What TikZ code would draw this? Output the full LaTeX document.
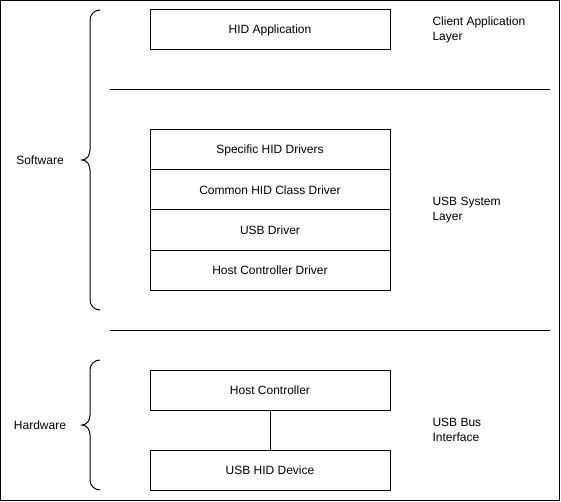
\documentclass[tikz,border=0pt]{standalone}
\usepackage{fontspec}
\setmainfont{Liberation Sans}
\usetikzlibrary{positioning}

\begin{document}
\begin{tikzpicture}[
    x=1pt, y=-1pt,
    font=\fontsize{12}{15}\selectfont,
    every path/.style = {line width=1pt},
    layerbox/.style = {rectangle, draw, minimum width=240pt, minimum height=40pt, inner sep=0pt, outer sep=0pt, anchor=north west},
    sidelabel/.style= {align=left, anchor=west, inner sep=0pt},
    grouplabel/.style= {anchor=center, inner sep=0pt}
]

% --- Rahmen ---
\useasboundingbox (0,0) rectangle (561,502);
\draw (0.5,0.5) rectangle (559.5,500.5);

% --- Client Application Layer ---
\node[layerbox] (app) at (150,10) {HID Application};
\node[sidelabel] (applbl) at (432,30) {Client Application\\Layer};

\coordinate (sepA) at (110,90);
\coordinate (sepAe) at (550,90);
\draw (sepA) -- (sepAe);

% --- USB System Layer ---
\node[layerbox] (spec) at (150,130) {Specific HID Drivers};
\node[layerbox, below=0pt of spec.south west, anchor=north west] (common) {Common HID Class Driver};
\node[layerbox, below=0pt of common.south west, anchor=north west] (usbdrv) {USB Driver};
\node[layerbox, below=0pt of usbdrv.south west, anchor=north west] (hcd) {Host Controller Driver};
\node[sidelabel] (syslbl) at (432,210) {USB System\\Layer};

\coordinate (sepB) at (110,330);
\coordinate (sepBe) at (550,330);
\draw (sepB) -- (sepBe);

% --- USB Bus Interface ---
\node[layerbox] (hc) at (150,370) {Host Controller};
\node[layerbox] (dev) at (150,450) {USB HID Device};
\node[sidelabel] (buslbl) at (432,430) {USB Bus\\Interface};
\draw (hc) -- (dev);

% --- Klammern ---
\draw (100,10) to[out=180,in=90] (90,20) -- (90,150) to[out=-90,in=0] (82,160)
      to[out=0,in=90] (90,170) -- (90,300) to[out=-90,in=180] (100,310);
\node[grouplabel] (sw) at (40,160) {Software};

\draw (100,360) to[out=180,in=90] (90,370) -- (90,415) to[out=-90,in=0] (82,425)
      to[out=0,in=90] (90,435) -- (90,480) to[out=-90,in=180] (100,490);
\node[grouplabel] (hw) at (40,425) {Hardware};

\end{tikzpicture}
\end{document}
